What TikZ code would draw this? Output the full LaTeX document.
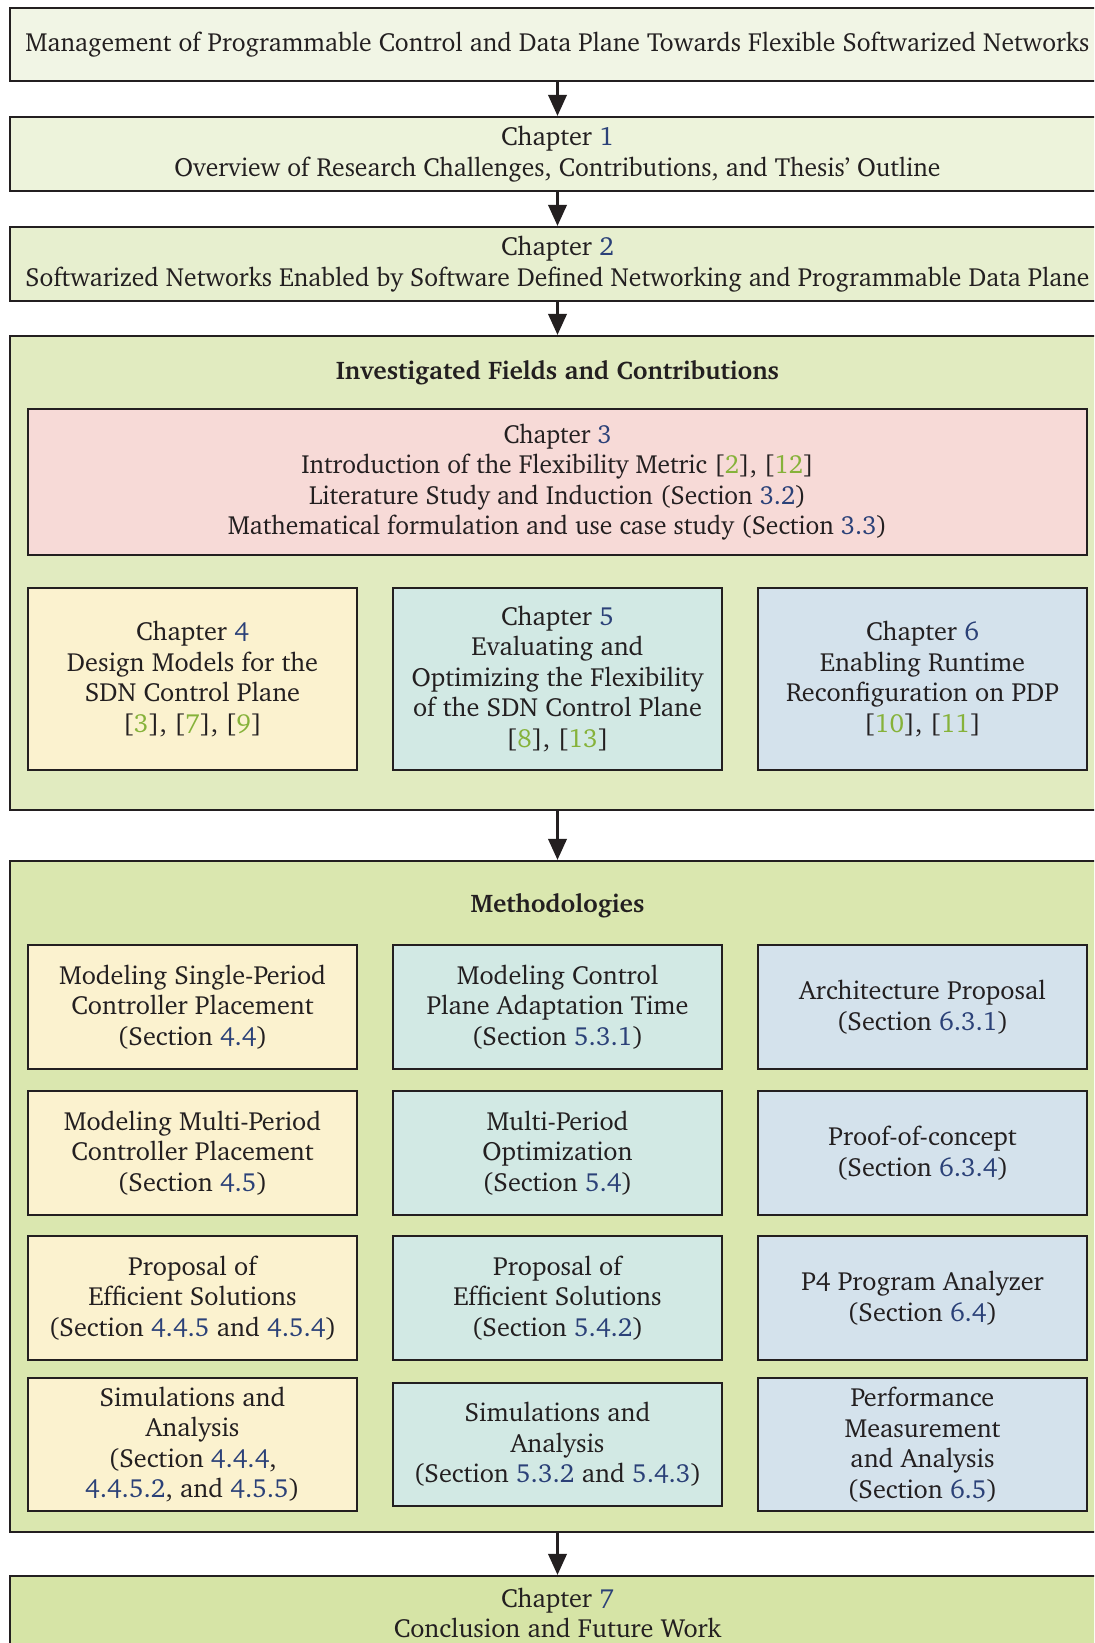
\documentclass[tikz,border=0pt]{standalone}
\usepackage[T1]{fontenc}
\usepackage{charter}
\usepackage{graphicx}
\usetikzlibrary{arrows.meta}

\definecolor{ink}{HTML}{231F20}
\definecolor{refblue}{HTML}{2B4178}
\definecolor{citegreen}{HTML}{86B23A}
\definecolor{fillA}{HTML}{F1F5E5}
\definecolor{fillB}{HTML}{EDF3DB}
\definecolor{fillC}{HTML}{E7EFCF}
\definecolor{fillD}{HTML}{E1EBC0}
\definecolor{fillE}{HTML}{DAE7AF}
\definecolor{fillF}{HTML}{D6E4A6}
\definecolor{chred}{HTML}{F7DAD7}
\definecolor{chyellow}{HTML}{FBF2CF}
\definecolor{chteal}{HTML}{D2E9E4}
\definecolor{chblue}{HTML}{D4E2EC}

\newcommand\rb[1]{\textcolor{refblue}{#1}}
\newcommand\cg[1]{\textcolor{citegreen}{#1}}
\newcommand\pxl[1]{#1*0.4pt}
% a line set to a given width, its height unchanged
\newcommand\fitline[2]{\resizebox{#1}{\height}{#2}}

\begin{document}
\begin{tikzpicture}[x=0.4pt,y=-0.4pt,
  box/.style={draw=ink, line width=0.9pt, text=ink, align=center, inner sep=0pt,
    font=\fontsize{10.5}{12.2}\selectfont},
  wide/.style={box, minimum width=\pxl{1095}, minimum height=\pxl{74}},
  col/.style={box, minimum width=\pxl{329}},
  heading/.style={text=ink, font=\fontsize{10.2}{12.2}\selectfont\bfseries},
  arr/.style={draw=ink, line width=0.9pt, -{Triangle[length=8.4pt, width=7.4pt]}}]
\useasboundingbox (0,0) rectangle (1094,1643);
\begin{scope}
\clip (0,0) rectangle (1094,1643);

% title and introductory chapters
\node[wide, fill=fillA, minimum height=\pxl{73}] (title) at (557.5,44.5)
  {\fitline{425.6pt}{Management of Programmable Control and Data Plane Towards Flexible Softwarized Networks}};
\node[wide, fill=fillB] (ch1) at (557.5,154)
  {Chapter \rb{1}\\\fitline{306.4pt}{Overview of Research Challenges, Contributions, and Thesis' Outline}};
\node[wide, fill=fillC] (ch2) at (557.5,264)
  {Chapter \rb{2}\\\fitline{425.6pt}{Softwarized Networks Enabled by Software Defined Networking and Programmable Data Plane}};

% investigated fields and contributions
\node[box, fill=fillD, minimum width=\pxl{1095}, minimum height=\pxl{474}] (fields) at (557.5,573) {};
\node[heading] (fieldshead) at (557.5,373) {Investigated Fields and Contributions};
\node[box, fill=chred, minimum width=\pxl{1059}, minimum height=\pxl{146}] (ch3) at (557.5,482)
  {\fitline{43.2pt}{Chapter \rb{3}}\\
   \fitline{205pt}{Introduction of the Flexibility Metric [\cg{2}], [\cg{12}]}\\
   \fitline{198.7pt}{Literature Study and Induction (Section \rb{3.2})}\\
   \fitline{263.7pt}{Mathematical formulation and use case study (Section \rb{3.3})}};
\node[col, fill=chyellow, minimum height=\pxl{182}] (ch4) at (192.5,679)
  {Chapter \rb{4}\\Design Models for the\\SDN Control Plane\\{}[\cg{3}], [\cg{7}], [\cg{9}]};
\node[col, fill=chteal, minimum height=\pxl{182}] (ch5) at (557.5,679)
  {Chapter \rb{5}\\Evaluating and\\Optimizing the Flexibility\\of the SDN Control Plane\\{}[\cg{8}], [\cg{13}]};
\node[col, fill=chblue, minimum height=\pxl{182}] (ch6) at (922.5,679)
  {Chapter \rb{6}\\Enabling Runtime\\Reconfiguration on PDP\\{}[\cg{10}], [\cg{11}]};

% methodologies
\node[box, fill=fillE, minimum width=\pxl{1095}, minimum height=\pxl{671}] (meth) at (557.5,1196.5) {};
\node[heading] (methhead) at (557.5,906) {Methodologies};

\node[col, fill=chyellow, minimum height=\pxl{124}] (m41) at (192.5,1007)
  {Modeling Single-Period\\Controller Placement\\(Section \rb{4.4})};
\node[col, fill=chteal, minimum height=\pxl{124}] (m51) at (557.5,1007)
  {Modeling Control\\Plane Adaptation Time\\(Section \rb{5.3.1})};
\node[col, fill=chblue, minimum height=\pxl{124}] (m61) at (922.5,1007)
  {Architecture Proposal\\(Section \rb{6.3.1})};

\node[col, fill=chyellow, minimum height=\pxl{124}] (m42) at (192.5,1153)
  {Modeling Multi-Period\\Controller Placement\\(Section \rb{4.5})};
\node[col, fill=chteal, minimum height=\pxl{124}] (m52) at (557.5,1153)
  {Multi-Period\\Optimization\\(Section \rb{5.4})};
\node[col, fill=chblue, minimum height=\pxl{124}] (m62) at (922.5,1153)
  {Proof-of-concept\\(Section \rb{6.3.4})};

\node[col, fill=chyellow, minimum height=\pxl{124}] (m43) at (192.5,1298)
  {Proposal of\\Efficient Solutions\\(Section \rb{4.4.5} and \rb{4.5.4})};
\node[col, fill=chteal, minimum height=\pxl{124}] (m53) at (557.5,1298)
  {Proposal of\\Efficient Solutions\\(Section \rb{5.4.2})};
\node[col, fill=chblue, minimum height=\pxl{124}] (m63) at (922.5,1298)
  {P4 Program Analyzer\\(Section \rb{6.4})};

\node[col, fill=chyellow, minimum height=\pxl{133}] (m44) at (192.5,1444.5)
  {Simulations and\\Analysis\\(Section \rb{4.4.4},\\\rb{4.4.5.2}, and \rb{4.5.5})};
\node[col, fill=chteal, minimum height=\pxl{123}] (m54) at (557.5,1444.5)
  {Simulations and\\Analysis\\(Section \rb{5.3.2} and \rb{5.4.3})};
\node[col, fill=chblue, minimum height=\pxl{133}] (m64) at (922.5,1444.5)
  {Performance\\Measurement\\and Analysis\\(Section \rb{6.5})};

% closing chapter
\node[wide, fill=fillF] (ch7) at (557.5,1613)
  {Chapter \rb{7}\\Conclusion and Future Work};

% reading order
\draw[arr] (title) -- (ch1);
\draw[arr] (ch1) -- (ch2);
\draw[arr] (ch2) -- (fields);
\draw[arr] (fields) -- (meth);
\draw[arr] (meth) -- (ch7);
\end{scope}
\end{tikzpicture}
\end{document}
